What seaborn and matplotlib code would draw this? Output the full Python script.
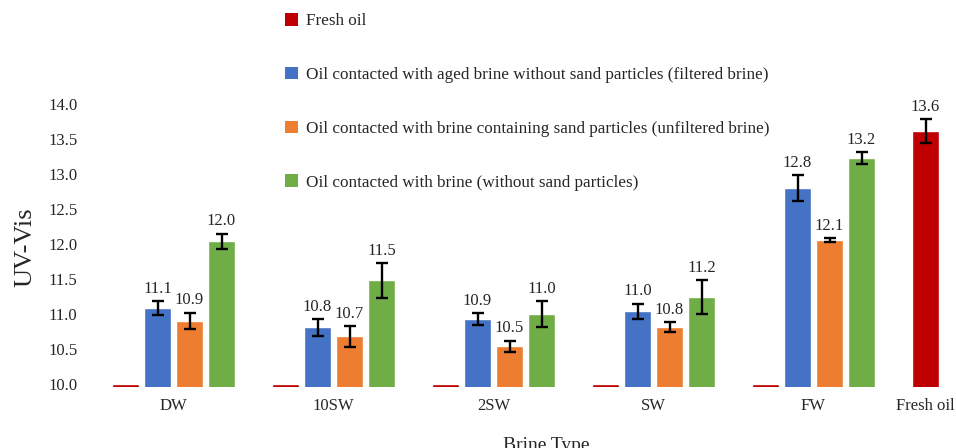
import numpy as np
import pandas as pd
import matplotlib
matplotlib.use("Agg")
import matplotlib.pyplot as plt
from matplotlib.patches import Patch
import seaborn as sns

# values
brine_types = ["DW", "10SW", "2SW", "SW", "FW", "Fresh oil"]
series_names = [
    "Fresh oil",
    "Oil contacted with aged brine without sand particles (filtered brine)",
    "Oil contacted with brine containing sand particles (unfiltered brine)",
    "Oil contacted with brine (without sand particles)",
]
fresh_oil = [10.0, 10.0, 10.0, 10.0, 10.0, 13.62]
filtered = [11.08, 10.81, 10.93, 11.04, 12.80, np.nan]
unfiltered = [10.90, 10.68, 10.54, 10.81, 12.06, np.nan]
no_sand = [12.04, 11.48, 11.00, 11.24, 13.23, np.nan]

fresh_oil_err = [0, 0, 0, 0, 0, 0.17]
filtered_err = [0.10, 0.12, 0.08, 0.11, 0.18, 0]
unfiltered_err = [0.12, 0.15, 0.08, 0.07, 0.03, 0]
no_sand_err = [0.11, 0.25, 0.18, 0.245, 0.08, 0]

colors = ["#C00000", "#4472C4", "#ED7D31", "#70AD47"]

all_vals = [fresh_oil, filtered, unfiltered, no_sand]
all_errs = [fresh_oil_err, filtered_err, unfiltered_err, no_sand_err]

rows = []
for name, vals in zip(series_names, all_vals):
    for b, v in zip(brine_types, vals):
        rows.append({"Brine Type": b, "Series": name, "UV-Vis": v})
df = pd.DataFrame(rows)

sns.set_style("white")
plt.rcParams["font.family"] = ["Liberation Serif", "DejaVu Serif"]
text_color = "#262626"

fig = plt.figure(figsize=(9.56, 4.48), dpi=100)
ax = fig.add_axes([90 / 956, (448 - 387.2) / 448, 860 / 956, (387.2 - 104) / 448])

sns.barplot(data=df, x="Brine Type", y="UV-Vis", hue="Series",
            order=brine_types, hue_order=series_names, palette=colors,
            errorbar=None, gap=0.18, legend=False, saturation=1, ax=ax)

# error bars and value labels on each bar
fresh_x = None
bar_containers = list(ax.containers)
for i, cont in enumerate(bar_containers):
    for p in cont.patches:
        xc = p.get_x() + p.get_width() / 2
        k = int(round(xc))
        v = all_vals[i][k]
        if np.isnan(v) or v <= 10.0:
            continue
        e = all_errs[i][k]
        ax.errorbar(xc, v, yerr=e, fmt="none", ecolor="black",
                    elinewidth=1.7, capsize=4.3, capthick=1.7, zorder=5)
        ax.annotate(f"{v:.1f}", (xc, v + e), xytext=(0, 3),
                    textcoords="offset points", ha="center", va="bottom",
                    fontsize=12, color=text_color)
        if i == 0 and k == 5:
            fresh_x = xc

ax.set_xlim((90 - 173.5) / 160, (950 - 173.5) / 160)
ax.set_ylim(9.955, 14.0)
ax.set_yticks(np.arange(10.0, 14.01, 0.5))
ax.set_yticklabels([f"{t:.1f}" for t in np.arange(10.0, 14.01, 0.5)])

ticks = list(range(5)) + [fresh_x]
ax.set_xticks(ticks)
ax.set_xticklabels(brine_types)

ax.tick_params(axis="both", length=0, labelsize=12, labelcolor=text_color)
ax.tick_params(axis="x", pad=8)
ax.tick_params(axis="y", pad=9)
sns.despine(ax=ax, left=True, bottom=True)

ax.set_xlabel("Brine Type", fontsize=14, color=text_color)
ax.xaxis.set_label_coords((546 - 90) / 860, -0.175)
ax.set_ylabel("UV-Vis", fontsize=19, color=text_color)
ax.yaxis.set_label_coords((36 - 90) / 860, (387.2 - 246.7) / (387.2 - 104))

handles = [Patch(facecolor=c, edgecolor="none") for c in colors]
fig.legend(handles, series_names, loc="upper left",
           bbox_to_anchor=(285 / 956, 1 - 13 / 448), frameon=False,
           fontsize=12.3, labelspacing=2.2, handlelength=0.75, handleheight=0.75,
           handletextpad=0.45, borderpad=0, borderaxespad=0,
           labelcolor=text_color)

fig.savefig("out.png", dpi=100)
